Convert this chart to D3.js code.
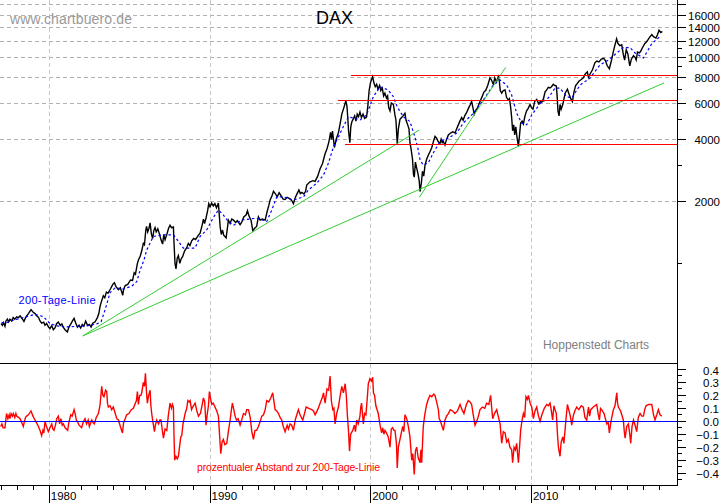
<!DOCTYPE html>
<html><head><meta charset="utf-8">
<script src="https://cdn.jsdelivr.net/npm/d3@7/dist/d3.min.js"></script>
<style>
html,body{margin:0;padding:0;background:#fff;overflow:hidden}
svg{display:block}
text{font-family:"Liberation Sans",Arial,sans-serif}
.crisp{shape-rendering:crispEdges}
</style></head><body><svg id="c" width="723" height="503"></svg>
<script>
const pricePoints=[[1977.0,510],[1977.08,500],[1977.15,515],[1977.24,495],[1977.3,525],[1977.39,536],[1977.47,520],[1977.55,535],[1977.66,524],[1977.75,545],[1977.85,535],[1977.97,550],[1978.08,545],[1978.18,556],[1978.3,540],[1978.42,522],[1978.5,540],[1978.59,556],[1978.7,570],[1978.86,596],[1978.98,580],[1979.11,570],[1979.22,555],[1979.32,548],[1979.42,525],[1979.52,512],[1979.65,518],[1979.73,500],[1979.83,510],[1979.95,490],[1980.04,482],[1980.15,498],[1980.25,476],[1980.35,486],[1980.46,510],[1980.56,518],[1980.68,500],[1980.78,508],[1980.87,488],[1980.98,476],[1981.12,464],[1981.22,490],[1981.33,506],[1981.44,525],[1981.54,540],[1981.65,510],[1981.75,490],[1981.85,500],[1981.95,485],[1982.05,505],[1982.15,495],[1982.26,524],[1982.38,500],[1982.49,505],[1982.6,490],[1982.7,512],[1982.85,520],[1982.99,545],[1983.08,570],[1983.16,620],[1983.25,655],[1983.36,695],[1983.45,680],[1983.55,725],[1983.65,715],[1983.8,750],[1983.95,790],[1984.05,805],[1984.15,770],[1984.3,745],[1984.42,760],[1984.57,700],[1984.62,745],[1984.72,780],[1984.88,790],[1985.05,830],[1985.18,825],[1985.28,900],[1985.36,885],[1985.48,1000],[1985.55,1040],[1985.66,1085],[1985.75,1150],[1985.85,1250],[1985.92,1230],[1986.0,1440],[1986.05,1510],[1986.12,1420],[1986.2,1480],[1986.27,1570],[1986.35,1390],[1986.43,1320],[1986.5,1440],[1986.58,1490],[1986.65,1420],[1986.75,1470],[1986.85,1390],[1986.95,1300],[1987.05,1240],[1987.12,1380],[1987.2,1300],[1987.3,1370],[1987.42,1480],[1987.51,1530],[1987.6,1490],[1987.72,1500],[1987.76,1250],[1987.82,1000],[1987.88,940],[1987.96,1060],[1988.03,1090],[1988.12,1000],[1988.2,1050],[1988.3,1080],[1988.42,1150],[1988.55,1190],[1988.65,1250],[1988.75,1220],[1988.86,1285],[1988.98,1320],[1989.1,1305],[1989.28,1370],[1989.38,1400],[1989.5,1520],[1989.59,1640],[1989.66,1560],[1989.75,1660],[1989.85,1800],[1989.92,1950],[1990.0,1880],[1990.1,1960],[1990.2,1900],[1990.3,1950],[1990.4,1860],[1990.52,1960],[1990.58,1700],[1990.63,1500],[1990.7,1380],[1990.78,1450],[1990.85,1370],[1991.0,1330],[1991.08,1480],[1991.14,1620],[1991.25,1560],[1991.35,1640],[1991.46,1620],[1991.6,1580],[1991.7,1610],[1991.87,1540],[1991.98,1590],[1992.1,1680],[1992.25,1720],[1992.33,1800],[1992.42,1700],[1992.55,1620],[1992.66,1440],[1992.78,1480],[1992.9,1510],[1993.01,1680],[1993.12,1620],[1993.25,1640],[1993.43,1620],[1993.55,1780],[1993.65,1900],[1993.74,2030],[1993.85,2120],[1993.95,2240],[1994.08,2170],[1994.18,2100],[1994.3,2200],[1994.42,2130],[1994.55,2050],[1994.67,2040],[1994.8,2090],[1994.95,2060],[1995.1,2010],[1995.19,1950],[1995.3,2080],[1995.42,2180],[1995.53,2270],[1995.62,2180],[1995.72,2210],[1995.84,2170],[1995.94,2230],[1996.02,2400],[1996.2,2480],[1996.4,2520],[1996.54,2500],[1996.7,2650],[1996.85,2880],[1997.0,3050],[1997.16,3400],[1997.28,3600],[1997.4,3900],[1997.5,4320],[1997.56,4000],[1997.62,4380],[1997.74,3650],[1997.85,4000],[1997.99,4300],[1998.1,4780],[1998.2,5300],[1998.33,5700],[1998.45,6150],[1998.52,5800],[1998.57,5100],[1998.62,4400],[1998.7,3850],[1998.76,4600],[1998.82,4850],[1998.9,5000],[1999.0,5200],[1999.08,4900],[1999.16,5300],[1999.24,5150],[1999.33,5420],[1999.42,5100],[1999.52,5300],[1999.62,5050],[1999.74,5130],[1999.82,5800],[1999.9,6900],[1999.98,7500],[2000.05,7800],[2000.12,8050],[2000.2,7500],[2000.28,7200],[2000.37,7400],[2000.45,7000],[2000.55,7300],[2000.63,6900],[2000.72,7100],[2000.8,6500],[2000.88,6700],[2000.98,6350],[2001.05,6500],[2001.12,5700],[2001.2,5500],[2001.28,6000],[2001.41,5900],[2001.5,5300],[2001.57,4950],[2001.65,3800],[2001.72,4500],[2001.82,5000],[2001.92,5100],[2002.0,5180],[2002.13,5350],[2002.2,4950],[2002.3,4700],[2002.38,4500],[2002.44,3850],[2002.52,3550],[2002.6,3200],[2002.66,2700],[2002.71,2620],[2002.78,3100],[2002.86,2900],[2002.95,2700],[2003.02,2500],[2003.07,2230],[2003.15,2450],[2003.22,2800],[2003.3,2650],[2003.38,3000],[2003.48,3200],[2003.58,3350],[2003.7,3500],[2003.8,3650],[2003.92,3950],[2004.0,4130],[2004.1,4050],[2004.2,3900],[2004.31,3820],[2004.38,4000],[2004.45,3850],[2004.52,3900],[2004.62,3750],[2004.7,3950],[2004.83,4200],[2004.95,4280],[2005.1,4350],[2005.25,4300],[2005.35,4500],[2005.45,4700],[2005.55,4900],[2005.66,5100],[2005.75,4950],[2005.85,5200],[2005.97,5400],[2006.1,5700],[2006.2,5900],[2006.28,6100],[2006.36,5700],[2006.44,5300],[2006.52,5500],[2006.65,5700],[2006.8,6100],[2006.95,6500],[2007.05,6800],[2007.15,6900],[2007.28,7300],[2007.42,7950],[2007.5,7800],[2007.63,7400],[2007.72,7950],[2007.82,7600],[2007.94,8050],[2008.0,7700],[2008.06,6900],[2008.15,6700],[2008.25,6900],[2008.36,6950],[2008.45,6400],[2008.56,6200],[2008.63,6300],[2008.7,5800],[2008.77,5100],[2008.83,4400],[2008.9,4700],[2008.96,4200],[2009.03,4600],[2009.1,4100],[2009.19,3700],[2009.26,4200],[2009.33,4800],[2009.42,4900],[2009.5,4750],[2009.6,5200],[2009.7,5500],[2009.8,5650],[2009.91,5900],[2010.0,5700],[2010.1,5600],[2010.2,6100],[2010.33,6250],[2010.45,5950],[2010.55,6100],[2010.64,6050],[2010.75,6300],[2010.85,6800],[2010.95,6950],[2011.05,7150],[2011.15,7100],[2011.25,7200],[2011.36,7400],[2011.45,7300],[2011.55,7250],[2011.6,6500],[2011.65,5500],[2011.72,5200],[2011.78,5900],[2011.85,5600],[2011.95,5900],[2012.1,6700],[2012.24,7000],[2012.35,6600],[2012.45,6300],[2012.55,6100],[2012.65,6800],[2012.75,7300],[2012.82,7400],[2012.95,7650],[2013.1,7800],[2013.23,7950],[2013.35,8300],[2013.48,8500],[2013.55,8000],[2013.65,8300],[2013.8,8700],[2013.95,9400],[2014.06,9600],[2014.2,9500],[2014.35,9800],[2014.5,9900],[2014.6,9650],[2014.72,9100],[2014.85,8800],[2015.0,9800],[2015.1,10700],[2015.2,11500],[2015.3,12300],[2015.38,11700],[2015.5,11400],[2015.62,11500],[2015.72,10300],[2015.8,9700],[2015.9,10900],[2016.0,10400],[2016.12,9100],[2016.22,9800],[2016.35,10200],[2016.45,10000],[2016.52,9700],[2016.6,10600],[2016.72,10500],[2016.8,10700],[2016.9,11100],[2017.05,11650],[2017.2,12000],[2017.35,12500],[2017.49,12900],[2017.6,12600],[2017.75,12400],[2017.85,12900],[2017.94,13550],[2018.05,13200],[2018.15,13350]];
const maYears=[1977.03,1977.35,1977.76,1978.18,1978.59,1979.11,1979.63,1980.04,1980.46,1981.08,1981.70,1982.32,1982.95,1983.22,1983.47,1983.78,1984.09,1984.61,1985.13,1985.44,1985.65,1985.89,1986.06,1986.12,1986.47,1987.10,1987.72,1988.03,1988.34,1989.07,1989.38,1989.79,1990.21,1990.52,1990.83,1991.14,1991.46,1991.97,1992.70,1993.01,1993.53,1993.84,1994.15,1994.57,1995.19,1995.81,1996.12,1996.64,1997.06,1997.37,1997.68,1997.99,1998.30,1998.61,1999.34,1999.74,2000.16,2000.58,2001.09,2001.41,2001.65,2002.03,2002.44,2002.75,2002.96,2003.07,2003.27,2003.58,2003.89,2004.31,2004.83,2005.35,2005.76,2006.39,2007.01,2007.63,2008.05,2008.46,2008.77,2009.08,2009.39,2009.70,2010.02,2010.54,2011.05,2011.47,2011.78,2012.20,2012.51,2013.03,2013.65,2014.27,2014.79,2015.31,2015.72,2016.14,2016.45,2016.97,2017.49,2018.0];
const maValues=[515,515,530,540,551,565,551,510,497,491,494,497,508,520,594,720,760,750,775,815,928,1038,1160,1185,1350,1375,1375,1280,1185,1185,1350,1452,1670,1814,1715,1595,1530,1622,1650,1650,1595,1814,2100,2100,2030,2100,2270,2450,2680,3070,3675,4110,4610,5150,4966,5250,6440,7200,6940,6440,5740,5150,4880,4110,3550,3174,3000,3070,3430,3905,4060,4290,4800,5350,6206,7340,7760,7340,6560,5350,4800,4700,5250,5970,6350,7090,7090,6440,6350,7340,7940,9180,9700,10500,11150,11150,10500,9930,11650,12620];
const oscPoints=[[1976.97,-.04],[1977.05,-.02],[1977.12,-.05],[1977.24,-.05],[1977.3,.02],[1977.34,.06],[1977.42,.02],[1977.5,.05],[1977.55,.02],[1977.62,.06],[1977.7,.04],[1977.76,.06],[1977.85,.03],[1977.92,.06],[1977.97,.04],[1978.08,.03],[1978.18,.02],[1978.28,-.01],[1978.38,-.04],[1978.45,0],[1978.52,.03],[1978.59,.04],[1978.7,.05],[1978.86,.08],[1978.98,.04],[1979.11,.01],[1979.2,-.01],[1979.32,-.04],[1979.42,-.07],[1979.52,-.11],[1979.6,-.07],[1979.66,-.09],[1979.73,0],[1979.8,-.03],[1979.88,-.06],[1979.94,-.08],[1980.04,-.05],[1980.15,-.02],[1980.22,-.06],[1980.29,-.07],[1980.38,-.03],[1980.46,.02],[1980.56,.04],[1980.64,-.02],[1980.72,.02],[1980.8,-.03],[1980.87,-.02],[1980.98,-.05],[1981.14,-.07],[1981.2,-.02],[1981.33,.05],[1981.42,.04],[1981.54,.09],[1981.62,.05],[1981.68,.01],[1981.74,0],[1981.85,-.03],[1982.01,-.05],[1982.1,-.01],[1982.22,.02],[1982.32,-.02],[1982.42,.01],[1982.49,-.04],[1982.64,.01],[1982.72,-.01],[1982.8,-.02],[1982.92,.03],[1983.05,.06],[1983.15,.12],[1983.26,.27],[1983.33,.2],[1983.4,.19],[1983.5,.24],[1983.57,.23],[1983.62,.14],[1983.67,.11],[1983.78,.12],[1983.88,.09],[1983.98,.11],[1984.1,.06],[1984.2,.02],[1984.3,.01],[1984.42,-.04],[1984.55,-.09],[1984.62,-.01],[1984.72,.02],[1984.81,.05],[1984.95,.06],[1985.1,.09],[1985.23,.10],[1985.35,.14],[1985.42,.16],[1985.48,.23],[1985.54,.13],[1985.62,.2],[1985.7,.2],[1985.75,.22],[1985.85,.3],[1985.92,.27],[1985.98,.37],[1986.05,.22],[1986.1,.14],[1986.18,.2],[1986.27,.24],[1986.32,.12],[1986.37,.06],[1986.44,0],[1986.54,-.08],[1986.6,-.03],[1986.68,.01],[1986.8,-.02],[1986.88,.01],[1986.95,.01],[1987.02,-.06],[1987.1,-.13],[1987.2,-.06],[1987.31,-.07],[1987.4,.04],[1987.51,.14],[1987.6,.1],[1987.66,.13],[1987.72,.11],[1987.76,-.12],[1987.8,-.30],[1987.88,-.27],[1987.96,-.29],[1988.03,-.27],[1988.12,-.18],[1988.18,-.12],[1988.24,-.11],[1988.32,-.02],[1988.45,.06],[1988.55,.1],[1988.62,.16],[1988.7,.15],[1988.76,.16],[1988.85,.09],[1988.92,.11],[1989.07,.14],[1989.18,.08],[1989.28,.04],[1989.4,.06],[1989.5,.12],[1989.59,.18],[1989.67,.15],[1989.75,-.03],[1989.82,.05],[1989.9,.12],[1989.96,.23],[1990.04,.17],[1990.11,.13],[1990.2,.14],[1990.31,.11],[1990.42,.08],[1990.52,.04],[1990.58,-.08],[1990.67,-.25],[1990.75,-.16],[1990.83,-.14],[1990.92,-.18],[1991.04,-.17],[1991.14,-.08],[1991.25,.01],[1991.32,.08],[1991.39,.14],[1991.48,.09],[1991.56,.04],[1991.65,.01],[1991.75,.02],[1991.87,-.03],[1991.97,.01],[1992.08,.06],[1992.2,.05],[1992.28,.09],[1992.39,.09],[1992.5,.03],[1992.6,-.08],[1992.7,-.14],[1992.8,-.07],[1992.9,-.07],[1993.01,-.04],[1993.1,-.01],[1993.22,.04],[1993.33,.05],[1993.43,.09],[1993.53,.16],[1993.65,.15],[1993.78,.18],[1993.9,.22],[1993.98,.15],[1994.05,.09],[1994.15,.08],[1994.26,.06],[1994.36,.03],[1994.46,.01],[1994.56,-.04],[1994.67,-.08],[1994.8,-.03],[1994.88,-.06],[1994.98,-.02],[1995.08,-.03],[1995.19,-.07],[1995.3,.01],[1995.4,.05],[1995.5,.09],[1995.6,.05],[1995.77,.01],[1995.88,.06],[1995.98,.11],[1996.15,.1],[1996.33,.09],[1996.44,.08],[1996.54,.05],[1996.7,.09],[1996.85,.14],[1997.0,.19],[1997.06,.22],[1997.16,.14],[1997.28,.25],[1997.38,.24],[1997.47,.35],[1997.55,.16],[1997.64,.09],[1997.71,.1],[1997.78,-.02],[1997.88,.06],[1997.99,.11],[1998.1,.2],[1998.2,.27],[1998.3,.22],[1998.41,.29],[1998.48,.2],[1998.55,.04],[1998.62,-.08],[1998.68,-.23],[1998.75,-.1],[1998.88,-.07],[1998.98,-.03],[1999.05,-.08],[1999.13,.01],[1999.22,-.02],[1999.33,.04],[1999.38,.11],[1999.43,.14],[1999.54,-.02],[1999.62,.06],[1999.7,.05],[1999.78,.17],[1999.85,.29],[1999.95,.33],[2000.05,.31],[2000.12,.34],[2000.17,.22],[2000.24,.2],[2000.32,.12],[2000.47,.06],[2000.58,-.03],[2000.68,-.09],[2000.75,-.05],[2000.82,-.1],[2000.89,-.07],[2000.98,-.09],[2001.09,-.12],[2001.2,-.20],[2001.28,-.06],[2001.36,-.05],[2001.44,-.07],[2001.51,-.07],[2001.6,-.17],[2001.65,-.36],[2001.72,-.2],[2001.82,-.14],[2001.92,-.08],[2001.99,-.04],[2002.06,-.08],[2002.13,.05],[2002.24,.02],[2002.34,-.04],[2002.44,-.12],[2002.55,-.30],[2002.62,-.25],[2002.71,-.41],[2002.78,-.23],[2002.86,-.20],[2002.95,-.28],[2003.07,-.32],[2003.12,-.22],[2003.17,-.32],[2003.27,-.04],[2003.36,.05],[2003.48,.13],[2003.58,.17],[2003.69,.20],[2003.8,.19],[2003.92,.21],[2004.0,.20],[2004.08,.16],[2004.21,.09],[2004.26,.02],[2004.31,.01],[2004.42,-.03],[2004.52,-.07],[2004.62,.01],[2004.72,.04],[2004.83,.06],[2004.95,.09],[2005.1,.08],[2005.24,.06],[2005.4,.08],[2005.56,.13],[2005.68,.09],[2005.8,.06],[2005.95,.13],[2006.07,.16],[2006.18,.15],[2006.28,.13],[2006.38,.05],[2006.49,-.03],[2006.6,0],[2006.7,.04],[2006.8,.09],[2006.95,.11],[2007.1,.1],[2007.21,.14],[2007.35,.13],[2007.46,.20],[2007.53,.1],[2007.59,.02],[2007.7,.06],[2007.84,.09],[2007.95,.03],[2008.05,-.02],[2008.15,-.17],[2008.25,-.08],[2008.36,-.09],[2008.46,-.16],[2008.56,-.14],[2008.66,-.2],[2008.77,-.22],[2008.83,-.32],[2008.92,-.2],[2009.0,-.22],[2009.08,-.17],[2009.19,-.32],[2009.26,-.2],[2009.33,-.07],[2009.42,.01],[2009.5,.06],[2009.58,.03],[2009.66,.19],[2009.75,.17],[2009.81,.20],[2009.92,.14],[2010.02,.11],[2010.12,.02],[2010.22,.08],[2010.33,.11],[2010.44,.04],[2010.54,0],[2010.65,.05],[2010.8,.1],[2010.95,.13],[2011.05,.12],[2011.16,.14],[2011.24,.08],[2011.32,.01],[2011.4,.12],[2011.47,.09],[2011.55,.06],[2011.62,-.1],[2011.68,-.20],[2011.78,-.27],[2011.85,-.16],[2011.95,-.12],[2012.02,-.17],[2012.09,-.07],[2012.16,.03],[2012.24,.13],[2012.34,.08],[2012.42,.04],[2012.51,-.03],[2012.6,.04],[2012.7,.08],[2012.82,.11],[2012.95,.09],[2013.1,.12],[2013.23,.11],[2013.33,.03],[2013.44,.01],[2013.55,.11],[2013.62,.04],[2013.69,.09],[2013.85,.11],[2014.06,.13],[2014.15,.06],[2014.23,.01],[2014.3,.1],[2014.37,.09],[2014.52,.06],[2014.69,-.02],[2014.78,-.01],[2014.85,-.09],[2014.95,0],[2015.1,.09],[2015.2,.12],[2015.31,.22],[2015.36,.14],[2015.41,.11],[2015.55,.08],[2015.72,.01],[2015.78,-.08],[2015.83,-.13],[2015.93,-.04],[2016.03,-.02],[2016.1,-.08],[2016.18,-.17],[2016.26,-.04],[2016.35,.01],[2016.45,-.03],[2016.55,-.08],[2016.65,.03],[2016.76,.06],[2016.87,.04],[2016.97,.04],[2017.05,.09],[2017.13,.12],[2017.3,.13],[2017.49,.13],[2017.6,.05],[2017.69,.01],[2017.8,.05],[2017.9,.09],[2018.0,.05],[2018.11,.04]];
const trendUpper=[[1982.08,444,2003.02,4438],[1982.08,444,2018.25,7507],[2003.02,2091,2008.40,8946]];
const levels=[[8180,1998.77],[6186,1997.96],[3783,1998.40]];
const priceLabels=[16000,14000,12000,10000,8000,6000,4000,2000];
const priceGrid=[18000,16000,14000,12000,10000,8000,6000,4000,2000];
const priceMinor=[11000,9000,7000,5000,3000,1000];
const oscLabels=[0.4,0.3,0.2,0.1,0,-0.1,-0.2,-0.3,-0.4];
const oscMinor=[0.35,0.25,0.15,0.05,-0.05,-0.15,-0.25,-0.35,-0.45];
const decades=[1980,1990,2000,2010];
const years=d3.range(1977,2019);

const W=677.5,panelBottom=363,bottom=485;
const svg=d3.select("#c");
const x=d3.scaleLinear().domain([1976.93,2019.09]).range([0,W]);
const y=d3.scaleLog().domain([2000,8000]).range([201.3,77.3]);
const o=d3.scaleLinear().domain([0,0.4]).range([421.3,369.5]);

// grids
const g=svg.append("g").attr("class","crisp");
g.selectAll(".h").data(priceGrid).join("line").attr("x1",0).attr("x2",W).attr("y1",d=>y(d)).attr("y2",d=>y(d)).attr("stroke","#b0b0b0").attr("stroke-dasharray","4 3");
g.selectAll(".v").data(decades).join("line").attr("x1",d=>x(d)).attr("x2",d=>x(d)).attr("y1",0).attr("y2",bottom).attr("stroke","#c8c8c8").attr("stroke-dasharray","4 3");

const m=svg.append("g");
const pairLine=sy=>d3.line().x(d=>x(d[0])).y(d=>sy(d[1]));
// price
m.append("path").attr("d",pairLine(y)(pricePoints)).attr("fill","none").attr("stroke","#000").attr("stroke-width",1.4).attr("stroke-linejoin","miter");
m.append("path").attr("d",pairLine(y)(d3.zip(maYears,maValues))).attr("fill","none").attr("stroke","#0000ff").attr("stroke-width",1.2).attr("stroke-dasharray","2.5 2.5");
m.selectAll(".t").data(trendUpper).join("line").attr("x1",d=>x(d[0])).attr("y1",d=>y(d[1])).attr("x2",d=>x(d[2])).attr("y2",d=>y(d[3])).attr("stroke","#33cc33").attr("stroke-width",1);
m.selectAll(".l").data(levels).join("line").attr("class","crisp").attr("x1",d=>x(d[1])).attr("x2",W).attr("y1",d=>y(d[0])).attr("y2",d=>y(d[0])).attr("stroke","#ff0000").attr("stroke-width",1);

// oscillator
m.append("path").attr("d",pairLine(o)(oscPoints)).attr("fill","none").attr("stroke","#ff0000").attr("stroke-width",1.4);
m.append("line").attr("class","crisp").attr("x1",0).attr("x2",W).attr("y1",o(0)).attr("y2",o(0)).attr("stroke","#0000ff");

// axes
const ax=svg.append("g").attr("class","crisp");
ax.append("line").attr("x1",0).attr("x2",W).attr("y1",panelBottom).attr("y2",panelBottom).attr("stroke","#000");
ax.append("line").attr("x1",0).attr("x2",W).attr("y1",bottom).attr("y2",bottom).attr("stroke","#000");
ax.append("line").attr("x1",W).attr("x2",W).attr("y1",0).attr("y2",bottom).attr("stroke","#000");
const tick=(sel,vals,sc,len)=>sel.selectAll(null).data(vals).join("line").attr("x1",W).attr("x2",W+len).attr("y1",d=>sc(d)).attr("y2",d=>sc(d)).attr("stroke","#000");
tick(ax,priceGrid,y,8);tick(ax,priceMinor,y,4);tick(ax,oscLabels,o,8);tick(ax,oscMinor,o,4);
ax.selectAll(null).data(years).join("line").attr("x1",d=>x(d)).attr("x2",d=>x(d)).attr("y1",bottom).attr("y2",d=>decades.includes(d)?503:490).attr("stroke","#000");

const T=svg.append("g").attr("font-size","11.5px").attr("fill","#000");
T.selectAll(null).data(priceLabels).join("text").attr("x",720).attr("y",d=>y(d)+5).attr("text-anchor","end").text(d=>d);
T.selectAll(null).data(oscLabels).join("text").attr("x",719).attr("y",d=>o(d)+5).attr("text-anchor","end").text(d=>d3.format(".1f")(d));
T.selectAll(null).data(decades).join("text").attr("x",d=>x(d)+1.5).attr("y",500).text(d=>d);

const label=(t,px,py,size,col,len)=>{const e=svg.append("text").attr("x",px).attr("y",py).attr("font-size",size+"px").attr("fill",col).text(t);if(len)e.attr("textLength",len).attr("lengthAdjust","spacing");};
label("DAX",316,24,18,"#000",37);
label("www.chartbuero.de",10,24,14,"#999",122);
label("200-Tage-Linie",18.5,304,11,"#0000ff",77);
label("prozentualer Abstand zur 200-Tage-Linie",197,471,10.5,"#ff0000",183);
label("Hoppenstedt Charts",543,349,12,"#808080",106);
</script></body></html>
